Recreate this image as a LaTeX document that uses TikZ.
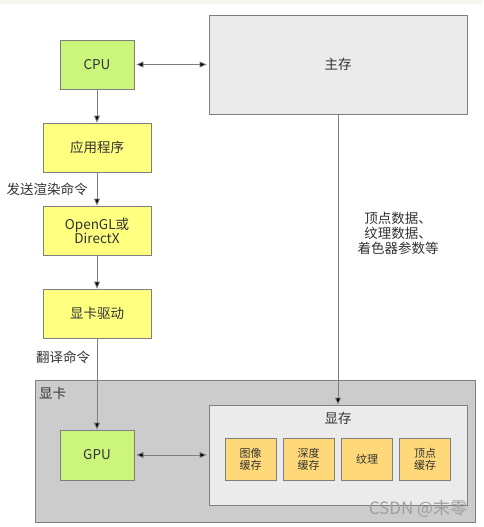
\documentclass[tikz,border=0pt]{standalone}
\usepackage{fontspec}
\setmainfont{Noto Sans CJK SC}
\usetikzlibrary{arrows.meta}
\definecolor{boxline}{HTML}{7F7F7F}
\definecolor{cpugreen}{HTML}{CCF57C}
\definecolor{appyellow}{HTML}{FFFF80}
\definecolor{memgray}{HTML}{EBEBEB}
\definecolor{cardgray}{HTML}{CCCCCC}
\definecolor{cellorange}{HTML}{FFD87A}
\definecolor{txt}{HTML}{333333}
\tikzset{
  blk/.style={draw=boxline, line width=0.8pt, inner sep=0pt, align=center, text=txt, font=\fontsize{13.5}{15}\selectfont},
  cell/.style={blk, fill=cellorange, minimum width=51pt, minimum height=42pt, font=\fontsize{11}{12}\selectfont},
  conn/.style={draw=boxline, line width=0.8pt, -{Triangle[length=7pt,width=6pt,fill=black]}},
  biconn/.style={draw=boxline, line width=0.8pt, {Triangle[length=7pt,width=6pt,fill=black]}-{Triangle[length=7pt,width=6pt,fill=black]}, shorten <=2pt, shorten >=2pt},
  lbl/.style={text=txt, inner sep=0pt, align=center, font=\fontsize{13.5}{15}\selectfont}
}
\begin{document}
\begin{tikzpicture}[x=1pt,y=-1pt]
\useasboundingbox (0,0) rectangle (483,527);
\fill[color={rgb,255:red,246;green,246;blue,240}] (0,0) rectangle (483,4);
% graphics card container
\node[blk, fill=cardgray, minimum width=440pt, minimum height=142pt] (card) at (255,451) {};
\node[lbl, anchor=west] (cardlbl) at (39,393) {显卡};
% main nodes
\node[blk, fill=cpugreen, minimum width=74pt, minimum height=49pt] (cpu) at (97,64.5) {CPU};
\node[blk, fill=memgray, minimum width=258pt, minimum height=99pt] (mem) at (338,64.5) {主存};
\node[blk, fill=appyellow, minimum width=108pt, minimum height=49pt] (app) at (97,147.5) {应用程序};
\node[blk, fill=appyellow, minimum width=108pt, minimum height=49pt, font=\fontsize{13.5}{14}\selectfont] (api) at (97,230.5) {OpenGL或\\DirectX};
\node[blk, fill=appyellow, minimum width=108pt, minimum height=49pt] (drv) at (97,313.5) {显卡驱动};
\node[blk, fill=cpugreen, minimum width=74pt, minimum height=50pt] (gpu) at (97,455) {GPU};
\node[blk, fill=memgray, minimum width=258pt, minimum height=100pt] (vram) at (338,455) {};
\node[lbl] (vramlbl) at (338,418) {显存};
\node[cell] (c1) at (250.5,459) {图像\\缓存};
\node[cell] (c2) at (308.5,459) {深度\\缓存};
\node[cell] (c3) at (367,459) {纹理};
\node[cell] (c4) at (425,459) {顶点\\缓存};
% labels
\node[lbl] (l1) at (47,189) {发送渲染命令};
\node[lbl] (l2) at (63,357) {翻译命令};
\node[lbl, font=\fontsize{13.5}{15}\selectfont] (l3) at (398,233) {顶点数据、\\纹理数据、\\着色器参数等};
% connectors
\draw[biconn] (cpu) -- (mem);
\draw[conn] (cpu) -- (app);
\draw[conn] (app) -- (api);
\draw[conn] (api) -- (drv);
\draw[conn] (drv) -- (gpu);
\draw[conn] (mem) -- (vram);
\draw[biconn] (gpu) -- (vram);
% watermark
\node[text=gray!75, font=\fontsize{17}{17}\selectfont, inner sep=0pt] (wm) at (418,509) {CSDN @末零};
\end{tikzpicture}
\end{document}
